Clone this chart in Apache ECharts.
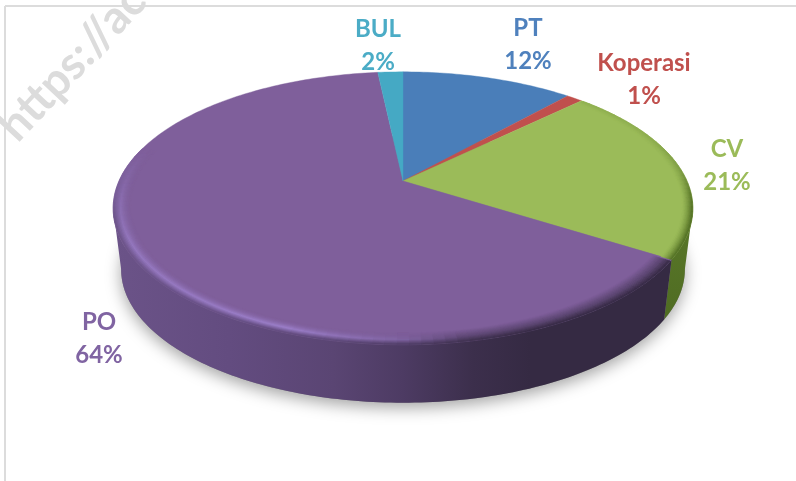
<!DOCTYPE html>
<html>
<head>
<meta charset="utf-8">
<style>html,body{margin:0;padding:0;background:#fff}#c{width:796px;height:481px}</style>
<script src="https://cdn.jsdelivr.net/npm/echarts@6/dist/echarts.min.js"></script>
</head>
<body>
<div id="c"></div>
<script>
// ---- data (labels show them rounded) ----
var categories = ['PT', 'Koperasi', 'CV', 'PO', 'BUL'];
var shareValues = [11.6, 1.1, 21.3, 64.3, 1.7];
var sliceColors = ['#4a7eb9', '#c0504d', '#9bbb59', '#7f5f9b', '#45a9c4'];
var labelColors = ['#4f81bd', '#c0504d', '#9bbb59', '#8064a2', '#4bacc6'];
// ---- layout (label centres, by category) ----
var labelCentres = { PT: [528, 45], Koperasi: [644, 80], CV: [727, 166], PO: [99, 339], BUL: [378, 46] };

var C = { x: 403, y: 181, A: 284, B: 131, k: 0.2 };
var F = { cy: 208, bx: 282 / 290, by: 0.978, bcy: 269 };
var total = shareValues.reduce(function (a, b) { return a + b; }, 0);
var VIS0 = 101.5, VIS1 = 258.5;
var WALL_STOPS = [[0, '#6b5388'], [0.2, '#634c80'], [0.38, '#5a4573'], [0.5, '#4d3b63'], [0.62, '#3c2f4c'], [0.72, '#352a43'], [1, '#352a43']];

function P(deg, r) {
  var t = deg * Math.PI / 180, f = r == null ? 1 : r;
  var u = Math.sin(t) * f, v = -Math.cos(t) * f, w = 1 - C.k * v;
  return [C.x + C.A * u / w, C.y + C.B * v / w];
}
function Q(deg) {
  var p = P(deg);
  return [C.x + (p[0] - C.x) * F.bx, F.bcy + (p[1] - F.cy) * F.by];
}
function arc(fn, a, b, r) {
  var out = [], n = Math.max(2, Math.ceil(Math.abs(b - a))), i;
  for (i = 0; i <= n; i++) out.push(fn(a + (b - a) * i / n, r));
  return out;
}
function rgb(h) { return [parseInt(h.substr(1, 2), 16), parseInt(h.substr(3, 2), 16), parseInt(h.substr(5, 2), 16)]; }
function mix(a, b, t) { t = Math.max(0, Math.min(1, t)); return [a[0] + (b[0] - a[0]) * t, a[1] + (b[1] - a[1]) * t, a[2] + (b[2] - a[2]) * t]; }
function css(c) { return 'rgb(' + Math.round(c[0]) + ',' + Math.round(c[1]) + ',' + Math.round(c[2]) + ')'; }
function lerpTable(tb, x) {
  if (x <= tb[0][0]) return tb[0][1];
  for (var i = 1; i < tb.length; i++) if (x <= tb[i][0]) {
    return tb[i - 1][1] + (tb[i][1] - tb[i - 1][1]) * (x - tb[i - 1][0]) / (tb[i][0] - tb[i - 1][0]);
  }
  return tb[tb.length - 1][1];
}
function wallAt(x) {
  var f = Math.max(0, Math.min(1, (x - 113) / 580));
  for (var i = 1; i < WALL_STOPS.length; i++) if (f <= WALL_STOPS[i][0]) {
    return mix(rgb(WALL_STOPS[i - 1][1]), rgb(WALL_STOPS[i][1]), (f - WALL_STOPS[i - 1][0]) / (WALL_STOPS[i][0] - WALL_STOPS[i - 1][0]));
  }
  return rgb('#352a43');
}
var SHINE = [[170, 0], [180, 0.55], [200, 1], [245, 0.85], [262, 0.6], [285, 0]];
var EDGE = [[255, 1], [285, 0]];
var CV_DARK = [[40, 0.12], [70, 0.2], [85, 0.4], [96, 0.85], [102, 1]];

function shadePO(r, deg, x) {
  var t = (r - 0.94) / 0.06, face = rgb('#7f5f9b'), b = lerpTable(SHINE, deg), e = lerpTable(EDGE, deg);
  var up = Math.min(t / 0.6, 1);
  var c = mix(face, rgb('#9d80cb'), b * up * up);
  var d = t < 0.6 ? (1 - b) * 0.5 * (t / 0.6) : (1 - b) * 0.5 + (1 - (1 - b) * 0.5) * (t - 0.6) / 0.4;
  return mix(c, wallAt(x), e * d);
}
function shadeCV(r, deg) {
  var t = (r - 0.965) / 0.035;
  return mix(rgb('#9bbb59'), rgb('#4f6c22'), lerpTable(CV_DARK, deg) * Math.pow(t, 1.4));
}
// bevel drawn as small quads on the rim of a slice
function bevel(a0, a1, r0, rings, shade) {
  var out = [], step = 2, n = Math.ceil((a1 - a0) / step), i, j;
  for (j = 0; j < rings; j++) {
    var ra = r0 + (1 - r0) * j / rings, rb = r0 + (1 - r0) * (j + 1) / rings;
    for (i = 0; i < n; i++) {
      var d0 = a0 + (a1 - a0) * i / n, d1 = a0 + (a1 - a0) * (i + 1) / n, dm = (d0 + d1) / 2;
      var pm = P(dm, (ra + rb) / 2), col = css(shade((ra + rb) / 2, dm, pm[0]));
      out.push({ type: 'polygon', z2: 30, silent: true,
        shape: { points: [P(d0, ra), P(d1, ra), P(d1, rb), P(d0, rb)] },
        style: { fill: col, stroke: col, lineWidth: 0.6 } });
    }
  }
  return out;
}

function renderItem(params, api) {
  var i = params.dataIndex, kids = [];
  var start = 0, j;
  for (j = 0; j < i; j++) start += shareValues[j];
  var a0 = start / total * 360, a1 = (start + api.value(0)) / total * 360;
  var name = categories[i];

  if (i === 0) {
    kids.push({ type: 'polygon', z2: 1, silent: true, shape: { points: arc(Q, 0, 360) },
      style: { fill: '#8a8a8a', shadowBlur: 16, shadowColor: 'rgba(0,0,0,0.36)', shadowOffsetY: 5 } });
  }
  // side wall
  var w0 = Math.max(a0, VIS0), w1 = Math.min(a1, VIS1);
  if (w1 > w0) {
    var pts = arc(P, w0, w1).concat(arc(Q, w1, w0));
    var fill = name === 'CV'
      ? new echarts.graphic.LinearGradient(0, 0, 0, 1, [{ offset: 0, color: '#5a782a' }, { offset: 1, color: '#4f6c22' }])
      : new echarts.graphic.LinearGradient(113, 0, 693, 0, WALL_STOPS.map(function (s) { return { offset: s[0], color: s[1] }; }), true);
    kids.push({ type: 'polygon', z2: 10, silent: true, shape: { points: pts }, style: { fill: fill } });
  }
  // top face: pie sector drawn through the perspective projection
  var face = [[C.x, C.y]].concat(arc(P, a0, a1));
  kids.push({ type: 'polygon', z2: 20, silent: true, shape: { points: face },
    style: { fill: sliceColors[i], stroke: sliceColors[i], lineWidth: 0.4 } });

  if (name === 'PO') kids = kids.concat(bevel(a0 + 0.6, Math.min(a1, 285), 0.94, 14, shadePO));
  if (name === 'CV') kids = kids.concat(bevel(a0 + 0.5, a1, 0.965, 8, shadeCV));

  // data label
  var c = labelCentres[name];
  kids.push({ type: 'text', z2: 50, silent: true, x: c[0], y: c[1],
    style: { text: name + '\n' + Math.round(api.value(0)) + '%', fill: labelColors[i], font: 'bold 24px Lato, Carlito, sans-serif',
      align: 'center', verticalAlign: 'middle', lineHeight: 33 } });
  return { type: 'group', children: kids };
}

var chart = echarts.init(document.getElementById('c'), null, { renderer: 'canvas' });
chart.setOption({
  animation: false,
  backgroundColor: '#ffffff',
  graphic: [
    { type: 'line', z: -1, silent: true, shape: { x1: 5, y1: 6, x2: 796, y2: 6 }, style: { stroke: '#dcdcdc', lineWidth: 2 } },
    { type: 'line', z: -1, silent: true, shape: { x1: 5, y1: 6, x2: 5, y2: 481 }, style: { stroke: '#dcdcdc', lineWidth: 2 } },
    { type: 'text', z: -1, silent: true, x: -10, y: 118, rotation: 47 * Math.PI / 180,
      style: { text: 'https://ac', fill: '#dcdcdc', font: 'bold 46px Lato, sans-serif', align: 'left', verticalAlign: 'alphabetic' } }
  ],
  series: [{
    type: 'custom', coordinateSystem: 'none', renderItem: renderItem, silent: true, clip: false,
    data: shareValues.map(function (v, i) { return { name: categories[i], value: [v] }; })
  }]
});
</script>
</body>
</html>
